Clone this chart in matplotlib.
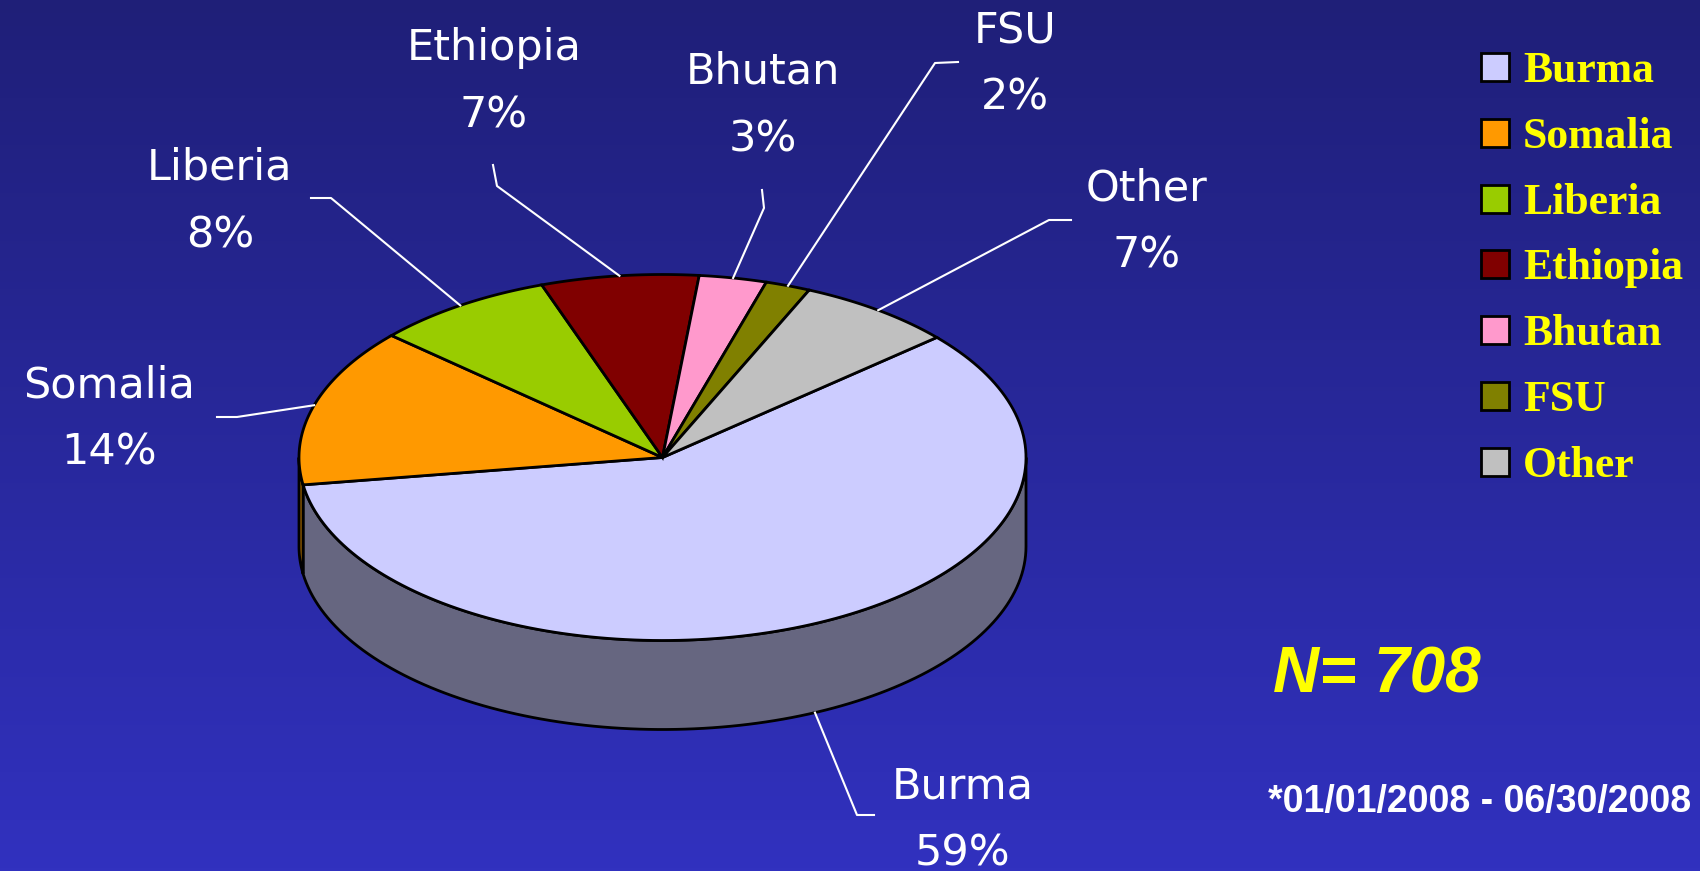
import numpy as np
import matplotlib.pyplot as plt
from matplotlib.colors import LinearSegmentedColormap
from matplotlib.patches import Rectangle

countries = ['Burma', 'Somalia', 'Liberia', 'Ethiopia', 'Bhutan', 'FSU', 'Other']
percent = [59, 14, 8, 7, 3, 2, 7]
colors = ['#ccccff', '#ff9900', '#99cc00', '#800000', '#ff99cc', '#808000', '#c0c0c0']
side_colors = ['#666680', '#996000', '#5c7a00', '#4d0000', '#996080', '#4d4d00', '#737373']

# label placement (pixels): centre x, baseline of name
label_x = [963, 109, 220, 494, 763, 1015, 1147]
label_y = [798, 397, 180, 60, 84, 43, 200]
# leader line: start next to label, elbow
lead_a = [(874, 815), (217, 417), (311, 198), (493, 165), (762, 190), (958, 62), (1071, 220)]
lead_b = [(857, 815), (237, 417), (331, 198), (497, 186), (764, 208), (935, 63), (1049, 220)]

cx, cy, rx, ry, depth = 662.5, 457.5, 363.5, 183, 89
start = 41

fig = plt.figure(figsize=(17, 8.71), dpi=100)
ax = fig.add_axes([0, 0, 1, 1])
ax.set_xlim(0, 1700)
ax.set_ylim(871, 0)
ax.axis('off')

bg = LinearSegmentedColormap.from_list('bg', ['#1f1f78', '#3131bf'])
ax.imshow(np.linspace(0, 1, 256).reshape(-1, 1), extent=[0, 1700, 871, 0],
          cmap=bg, aspect='auto', zorder=0)

cum = np.concatenate([[0], np.cumsum(percent)]) / sum(percent) * 360
edges = [(start - cum[i + 1], start - cum[i]) for i in range(len(percent))]

# sides of the disc (front half only)
for i, (t1, t2) in enumerate(edges):
    for k in (-1, 0, 1):
        lo, hi = max(t1, -180 + 360 * k), min(t2, 360 * k)
        if hi > lo:
            ts = np.radians(np.linspace(lo, hi, 120))
            x = cx + rx * np.cos(ts)
            y = cy - ry * np.sin(ts)
            ax.fill(np.r_[x, x[::-1]], np.r_[y, y[::-1] + depth],
                    facecolor=side_colors[i], edgecolor='black', lw=2, zorder=2)

# top face
for i, (t1, t2) in enumerate(edges):
    ts = np.radians(np.linspace(t1, t2, 150))
    x = np.r_[cx, cx + rx * np.cos(ts)]
    y = np.r_[cy, cy - ry * np.sin(ts)]
    ax.fill(x, y, facecolor=colors[i], edgecolor='black', lw=2, zorder=3)

# labels and leader lines
for i, (t1, t2) in enumerate(edges):
    m = np.radians((t1 + t2) / 2)
    px, py = cx + rx * np.cos(m), cy - ry * np.sin(m)
    if np.sin(m) < 0:
        py += depth
    ax.plot([lead_a[i][0], lead_b[i][0], px], [lead_a[i][1], lead_b[i][1], py],
            color='white', lw=1.5, zorder=4)
    ax.text(label_x[i], label_y[i], countries[i], color='white', fontsize=31,
            family='DejaVu Sans', ha='center', va='baseline')
    ax.text(label_x[i], label_y[i] + 67, f'{percent[i]}%', color='white', fontsize=31,
            family='DejaVu Sans', ha='center', va='baseline')

# legend
for i, name in enumerate(countries):
    y = 67 + i * 65.8
    ax.add_patch(Rectangle((1481, y - 14), 28, 28, facecolor=colors[i],
                           edgecolor='black', lw=2, zorder=5))
    ax.text(1523, y + 15, name, color='yellow', fontsize=31.5, fontweight='bold',
            family='Liberation Serif', ha='left', va='baseline')

ax.text(1273, 692, 'N= 708', color='yellow', fontsize=46, fontweight='bold',
        fontstyle='italic', family='Liberation Sans', ha='left', va='baseline')
ax.text(1268, 812, '*01/01/2008 - 06/30/2008', color='white', fontsize=27,
        fontweight='bold', family='Liberation Sans', ha='left', va='baseline')

plt.savefig('out.png', dpi=100)
